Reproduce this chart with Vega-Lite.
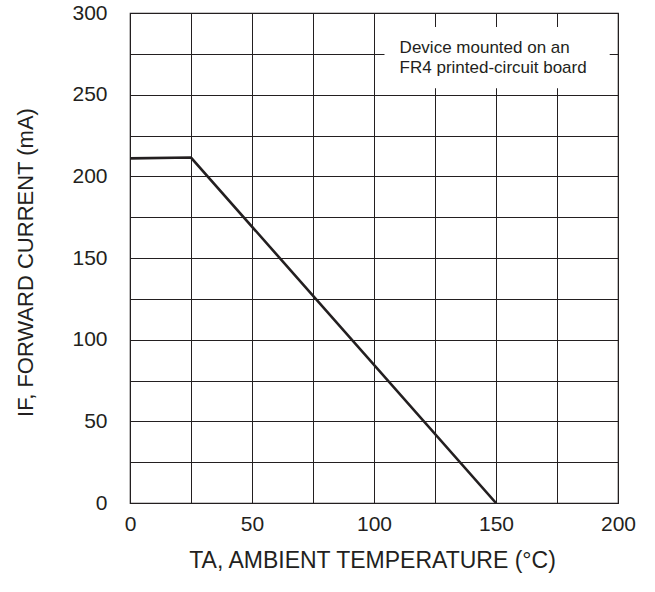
{
  "$schema": "https://vega.github.io/schema/vega-lite/v6.json",
  "width": 488,
  "height": 490,
  "autosize": {"type": "none"},
  "padding": {"left": 130, "top": 13, "right": 37, "bottom": 89},
  "background": "white",
  "config": {
    "view": {"stroke": "#231f20", "strokeWidth": 1.2},
    "font": "Liberation Sans"
  },
  "datasets": {
    "curve": [
      {"t": 0, "i": 211},
      {"t": 25, "i": 211.5},
      {"t": 150, "i": 0}
    ],
    "note": [
      {"x1": 104.3, "x2": 196.6, "y1": 254, "y2": 291.4, "tx": 110.5, "ty": 278.6, "label": ["Device mounted on an", "FR4 printed-circuit board"]}
    ]
  },
  "layer": [
    {
      "data": {"name": "curve"},
      "mark": {"type": "line", "color": "#231f20", "strokeWidth": 2.6, "clip": true},
      "encoding": {
        "x": {
          "field": "t", "type": "quantitative",
          "scale": {"domain": [0, 200], "nice": false, "zero": false},
          "axis": {
            "values": [0, 25, 50, 75, 100, 125, 150, 175, 200],
            "labelExpr": "datum.value % 50 == 0 ? datum.label : ''",
            "labelFlush": false, "labelDx": 5, "labelAlign": "center",
            "ticks": false, "domain": false,
            "grid": true, "gridColor": "#231f20", "gridOpacity": 1, "gridWidth": 1,
            "labelFontSize": 21, "labelColor": "#231f20", "labelPadding": 10,
            "labelFont": "Liberation Sans",
            "title": "TA, AMBIENT TEMPERATURE (°C)",
            "titleFont": "Liberation Sans", "titleFontSize": 23, "titleFontWeight": "normal",
            "titleColor": "#231f20",
            "titleBaseline": "alphabetic", "titleX": 242, "titleY": 64, "titleAlign": "center"
          }
        },
        "y": {
          "field": "i", "type": "quantitative",
          "scale": {"domain": [0, 300], "nice": false, "zero": true},
          "axis": {
            "values": [0, 25, 50, 75, 100, 125, 150, 175, 200, 225, 250, 275, 300],
            "labelExpr": "datum.value % 50 == 0 ? datum.label : ''",
            "labelFlush": false,
            "ticks": false, "domain": false,
            "grid": true, "gridColor": "#231f20", "gridOpacity": 1, "gridWidth": 1,
            "labelFontSize": 21, "labelColor": "#231f20", "labelPadding": 23,
            "labelFont": "Liberation Sans",
            "title": "IF, FORWARD CURRENT (mA)",
            "titleFont": "Liberation Sans", "titleFontSize": 22, "titleFontWeight": "normal",
            "titleColor": "#231f20",
            "titleAngle": -90, "titleX": -105, "titleY": 249,
            "titleAlign": "center", "titleBaseline": "middle"
          }
        }
      }
    },
    {
      "data": {"name": "note"},
      "mark": {"type": "rect", "fill": "white", "stroke": null},
      "encoding": {
        "x": {"field": "x1", "type": "quantitative"},
        "x2": {"field": "x2"},
        "y": {"field": "y1", "type": "quantitative"},
        "y2": {"field": "y2"}
      }
    },
    {
      "data": {"name": "note"},
      "mark": {"type": "text", "align": "left", "baseline": "middle", "fontSize": 17, "lineHeight": 20, "color": "#231f20", "font": "Liberation Sans"},
      "encoding": {
        "x": {"field": "tx", "type": "quantitative"},
        "y": {"field": "ty", "type": "quantitative"},
        "text": {"field": "label"}
      }
    }
  ]
}
